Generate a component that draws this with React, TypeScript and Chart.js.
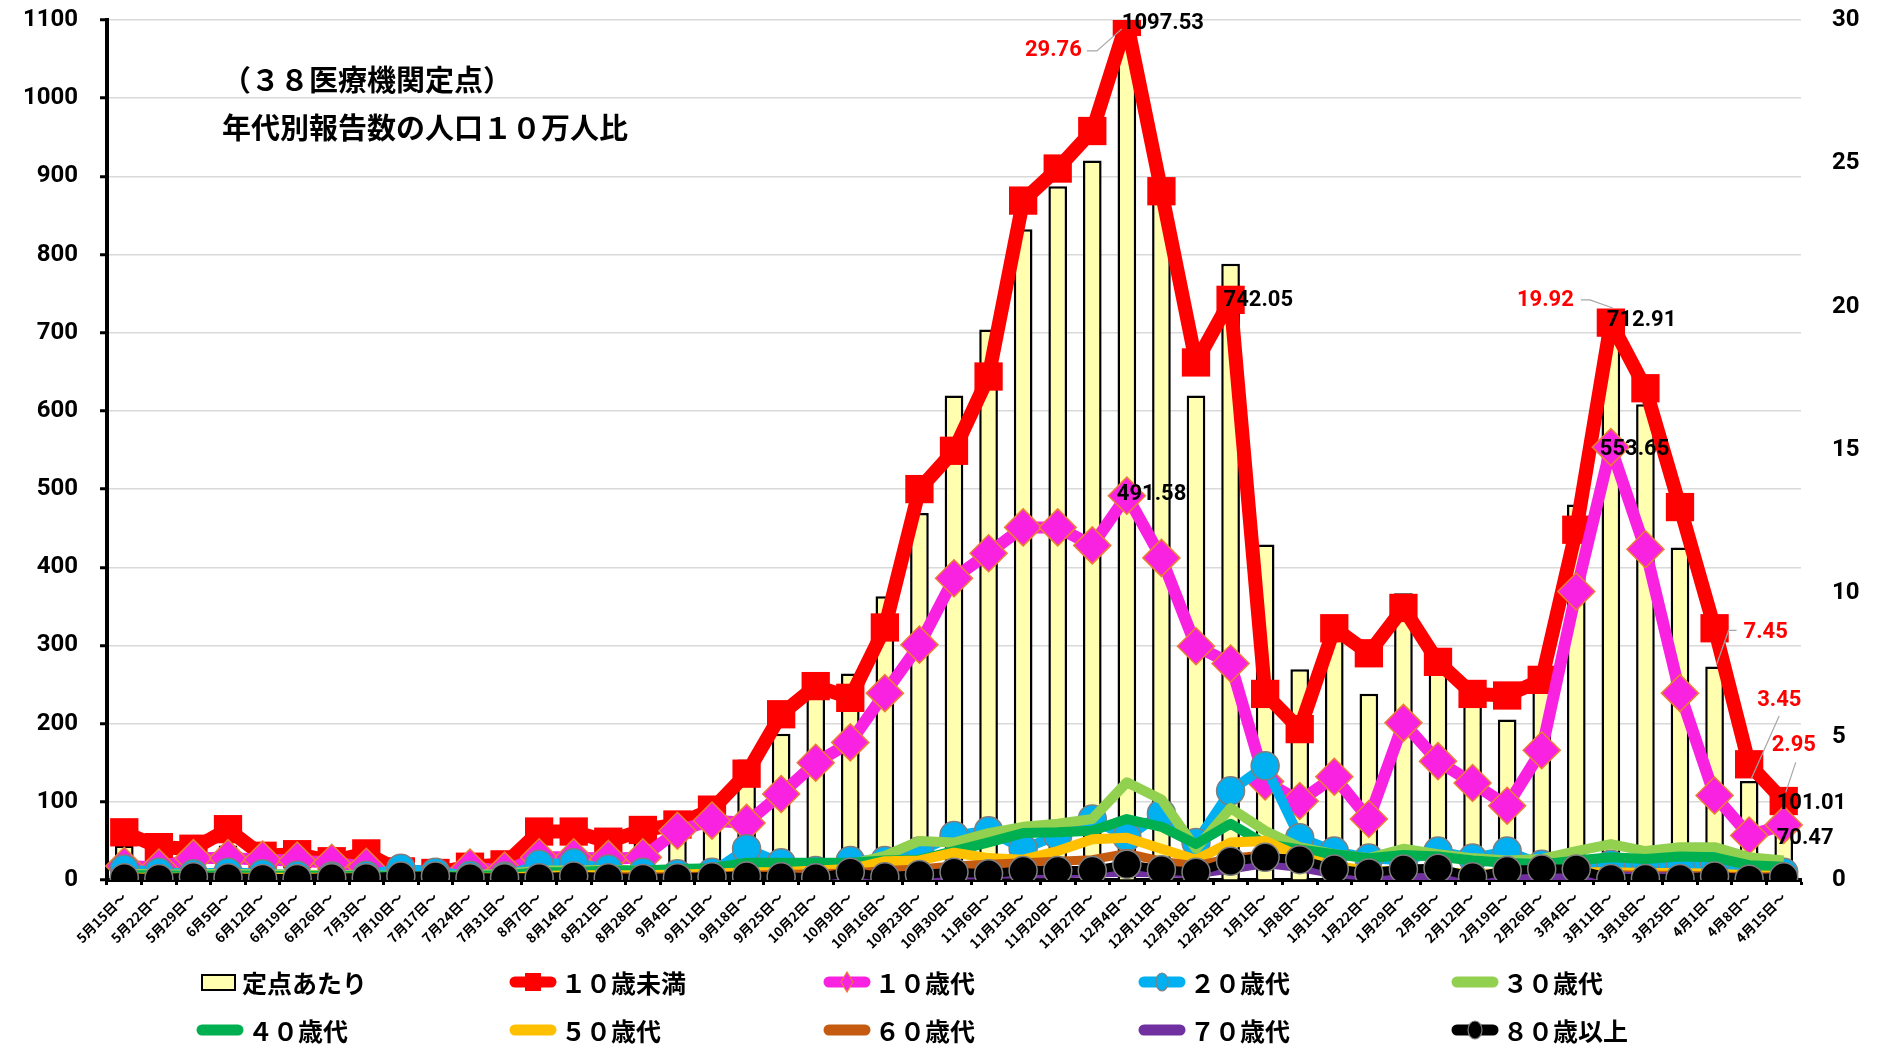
import React, { useEffect, useRef } from 'react';
import { Chart, registerables } from 'chart.js';
Chart.register(...registerables);

const categories = ['5月15日～','5月22日～','5月29日～','6月5日～','6月12日～','6月19日～','6月26日～','7月3日～','7月10日～','7月17日～','7月24日～','7月31日～','8月7日～','8月14日～','8月21日～','8月28日～','9月4日～','9月11日～','9月18日～','9月25日～','10月2日～','10月9日～','10月16日～','10月23日～','10月30日～','11月6日～','11月13日～','11月20日～','11月27日～','12月4日～','12月11日～','12月18日～','12月25日～','1月1日～','1月8日～','1月15日～','1月22日～','1月29日～','2月5日～','2月12日～','2月19日～','2月26日～','3月4日～','3月11日～','3月18日～','3月25日～','4月1日～','4月8日～','4月15日～'];

const perSentinel = [1.2, 0.9, 0.8, 1.2, 0.6, 0.6, 0.4, 0.5, 0.2, 0.2, 0.3, 0.3, 1.0, 1.1, 0.9, 1.9, 2.3, 2.6, 4.2, 5.1, 6.5, 7.2, 9.9, 12.8, 16.9, 19.2, 22.7, 24.2, 25.1, 29.76, 23.8, 16.9, 21.5, 11.7, 7.35, 8.6, 6.5, 10.0, 7.2, 6.1, 5.6, 6.8, 13.1, 19.92, 16.6, 11.6, 7.45, 3.45, 2.95];

const under10 = [61, 42, 40, 65, 31, 33, 24, 34, 11, 9, 17, 20, 62, 62, 49, 64, 71, 90, 136, 212, 248, 233, 323, 500, 549, 644, 869, 910, 958, 1097.53, 881, 662, 742.05, 238, 193, 322, 290, 348, 279, 238, 236, 256, 448, 712.91, 629, 477, 322, 148, 101.01];
const teens = [18, 16, 28, 28, 26, 25, 22, 17, 3, 3, 16, 12, 29, 29, 27, 29, 63, 76, 73, 110, 150, 176, 239, 301, 386, 418, 451, 451, 428, 491.58, 412, 299, 277, 126, 101, 132, 78, 201, 152, 124, 95, 166, 369, 553.65, 423, 239, 108, 57, 70.47];
const twenties = [14, 10, 8, 10, 8, 6, 5, 6, 15, 10, 6, 5, 20, 22, 14, 10, 8, 10, 40, 22, 12, 25, 25, 37, 57, 63, 40, 57, 78, 55, 85, 48, 114, 146, 54, 37, 28, 25, 37, 28, 37, 20, 18, 20, 22, 18, 22, 12, 10];
const thirties = [8, 7, 7, 8, 7, 7, 6, 6, 5, 5, 6, 8, 12, 12, 13, 12, 12, 12, 14, 15, 20, 20, 31, 50, 48, 60, 68, 72, 78, 125, 103, 40, 92, 63, 42, 33, 28, 40, 33, 28, 25, 27, 37, 46, 37, 42, 42, 29, 25];
const forties = [6, 6, 5, 6, 5, 5, 5, 5, 4, 4, 5, 6, 10, 10, 12, 12, 14, 15, 22, 22, 22, 22, 25, 26, 37, 48, 60, 61, 63, 78, 68, 46, 72, 46, 39, 33, 28, 32, 30, 25, 22, 20, 25, 29, 27, 30, 29, 19, 17];
const fifties = [3, 3, 3, 3, 3, 3, 3, 3, 2, 2, 3, 3, 5, 6, 6, 6, 7, 8, 10, 10, 12, 14, 24, 25, 35, 28, 26, 37, 52, 54, 40, 26, 48, 50, 30, 18, 12, 10, 10, 8, 8, 9, 10, 10, 9, 9, 8, 6, 5];
const sixties = [2, 2, 2, 2, 2, 2, 2, 2, 1, 1, 2, 2, 3, 3, 4, 4, 4, 5, 6, 7, 8, 9, 12, 14, 18, 20, 22, 24, 26, 34, 24, 18, 28, 32, 22, 12, 8, 7, 7, 6, 6, 6, 6, 7, 6, 6, 5, 4, 4];
const seventies = [1, 1, 1, 1, 1, 1, 1, 1, 1, 1, 1, 1, 2, 2, 2, 2, 2, 3, 3, 3, 3, 4, 5, 5, 6, 7, 8, 8, 9, 10, 9, 8, 14, 21, 16, 8, 5, 4, 4, 4, 3, 4, 5, 5, 4, 4, 3, 3, 2];
const over80 = [3, 2, 4, 3, 2, 2, 3, 3, 5, 5, 3, 3, 3, 5, 3, 2, 3, 4, 5, 4, 3, 10, 4, 7, 10, 8, 12, 12, 12, 20, 13, 10, 24, 29, 26, 14, 9, 14, 15, 4, 12, 14, 14, 2, 2, 2, 5, 1, 4];

const seriesNames = ['定点あたり', '１０歳未満', '１０歳代', '２０歳代', '３０歳代', '４０歳代', '５０歳代', '６０歳代', '７０歳代', '８０歳以上'];
const seriesColors = ['#FFFFAF', '#FF0000', '#F822E0', '#00B0F0', '#92D050', '#00B050', '#FFC000', '#C55A11', '#7030A0', '#000000'];

const titleLines = ['（３８医療機関定点）', '年代別報告数の人口１０万人比'];

const W = 1879;
const H = 1045;

type LabelSpec = { ds: number; i: number; color: string; align: 'left' | 'right'; dx: number; dy: number; leader?: number[][] };
const labelSpecs: LabelSpec[] = [
  { ds: 0, i: 29, color: '#FF0000', align: 'right', dx: -45, dy: 24, leader: [[-40, 24], [-30, 24], [-5, 2]] },
  { ds: 0, i: 43, color: '#FF0000', align: 'right', dx: -37, dy: -8, leader: [[-30, -9], [-21, -9], [2, -1]] },
  { ds: 0, i: 46, color: '#FF0000', align: 'left', dx: 29, dy: -34, leader: [[2, -2], [14, -36], [22, -36]] },
  { ds: 0, i: 47, color: '#FF0000', align: 'left', dx: 8, dy: -81, leader: [[2, -2], [30, -65]] },
  { ds: 0, i: 48, color: '#FF0000', align: 'left', dx: -12, dy: -50, leader: [[2, -3], [12, -33]] },
  { ds: 1, i: 29, color: '#000', align: 'left', dx: -5, dy: 2 },
  { ds: 1, i: 32, color: '#000', align: 'left', dx: -7, dy: 1 },
  { ds: 1, i: 43, color: '#000', align: 'left', dx: -4, dy: -2 },
  { ds: 1, i: 48, color: '#000', align: 'left', dx: -7, dy: 2 },
  { ds: 2, i: 29, color: '#000', align: 'left', dx: -10, dy: -1 },
  { ds: 2, i: 43, color: '#000', align: 'left', dx: -11, dy: 2 },
  { ds: 2, i: 48, color: '#000', align: 'left', dx: -7, dy: 14 },
];

const labelPlugin = {
  id: 'valueLabels',
  afterDatasetsDraw(chart: any) {
    const ctx = chart.ctx;
    ctx.save();
    ctx.font = 'bold 22px Roboto, sans-serif';
    ctx.textBaseline = 'middle';
    for (const s of labelSpecs) {
      const meta = chart.getDatasetMeta(s.ds);
      const el = meta.data[s.i];
      if (!el) continue;
      const x = el.x;
      const y = el.y;
      const v = chart.data.datasets[s.ds].data[s.i] as number;
      if (s.leader) {
        ctx.strokeStyle = '#A6A6A6';
        ctx.lineWidth = 1.2;
        ctx.beginPath();
        s.leader.forEach((p, k) => {
          if (k === 0) ctx.moveTo(x + p[0], y + p[1]);
          else ctx.lineTo(x + p[0], y + p[1]);
        });
        ctx.stroke();
      }
      ctx.fillStyle = s.color;
      ctx.textAlign = s.align;
      ctx.fillText(v.toFixed(2), x + s.dx, y + s.dy);
    }
    ctx.restore();
  },
};

function LegendSymbol({ idx }: { idx: number }) {
  const color = seriesColors[idx];
  if (idx === 0) {
    return <div style={{ width: 31, height: 13, background: color, border: '2.5px solid #000', marginRight: 6 }} />;
  }
  let marker: any = null;
  if (idx === 1) marker = <rect x={16} y={2} width={16} height={18} fill={color} />;
  if (idx === 2) marker = <polygon points="24,1 30,11 24,21 18,11" fill={color} stroke="#ED7D31" strokeWidth={1.2} />;
  if (idx === 3) marker = <ellipse cx={24} cy={11} rx={6} ry={9} fill={color} stroke="#7F7F7F" strokeWidth={1.2} />;
  if (idx === 9) marker = <ellipse cx={24} cy={11} rx={7} ry={9} fill={color} stroke="#7F7F7F" strokeWidth={1.2} />;
  return (
    <svg width={48} height={22} style={{ marginRight: 4 }}>
      <line x1={6} y1={11} x2={42} y2={11} stroke={color} strokeWidth={11} strokeLinecap="round" />
      {marker}
    </svg>
  );
}

const legendCols = [196, 509, 823, 1138, 1451];
const legendRows = [982, 1030];

export default function App() {
  const ref = useRef<HTMLCanvasElement>(null);
  useEffect(() => {
    document.body.style.margin = '0';
    const canvas = ref.current!;
    const lineData = [under10, teens, twenties, thirties, forties, fifties, sixties, seventies, over80];
    const lineWidths = [14, 12, 10, 10, 10, 10, 9, 9, 9];
    const datasets: any[] = [
      {
        type: 'bar',
        label: seriesNames[0],
        data: perSentinel,
        yAxisID: 'y1',
        backgroundColor: seriesColors[0],
        borderColor: '#000',
        borderWidth: 2.5,
        barPercentage: 0.54,
        categoryPercentage: 1,
        order: 20,
      },
    ];
    lineData.forEach((d, k) => {
      const idx = k + 1;
      const base: any = {
        type: 'line',
        label: seriesNames[idx],
        data: d,
        yAxisID: 'y',
        borderColor: seriesColors[idx],
        backgroundColor: seriesColors[idx],
        borderWidth: lineWidths[k],
        pointRadius: 0,
        tension: 0,
        fill: false,
        order: 10 - idx,
        borderJoinStyle: 'round',
      };
      if (idx === 1) Object.assign(base, { pointStyle: 'rect', pointRadius: 20, pointBorderWidth: 0, pointBorderColor: seriesColors[idx] });
      if (idx === 2) Object.assign(base, { pointStyle: 'rectRot', pointRadius: 18.5, pointBorderWidth: 1.5, pointBorderColor: '#ED7D31' });
      if (idx === 3) Object.assign(base, { pointStyle: 'circle', pointRadius: 14, pointBorderWidth: 1.5, pointBorderColor: '#7F7F7F' });
      if (idx === 9) Object.assign(base, { pointStyle: 'circle', pointRadius: 14, pointBorderWidth: 1.5, pointBorderColor: '#7F7F7F' });
      datasets.push(base);
    });

    const noPad = (s: any, w: number) => { s.width = w; s.paddingTop = 0; s.paddingBottom = 0; };

    const chart = new Chart(canvas, {
      type: 'bar',
      data: { labels: categories, datasets },
      options: {
        responsive: false,
        animation: false,
        devicePixelRatio: 1,
        layout: { padding: { top: 16, left: 0, right: 0, bottom: 0 } },
        plugins: { legend: { display: false }, tooltip: { enabled: false } },
        scales: {
          x: {
            type: 'category',
            offset: true,
            grid: { display: true, drawOnChartArea: false, drawTicks: true, tickLength: 5, tickWidth: 3, tickColor: '#000', offset: true },
            border: { display: true, color: '#000', width: 4 },
            ticks: {
              autoSkip: false,
              minRotation: 45,
              maxRotation: 45,
              padding: 4,
              color: '#000',
              font: { family: "'Noto Sans CJK JP', sans-serif", weight: 'bold', size: 13.5 },
            },
            afterFit: (s: any) => { s.height = 165; },
          },
          y: {
            position: 'left',
            min: 0,
            max: 1100,
            ticks: { stepSize: 100, padding: 22, color: '#000', font: { family: 'Roboto, sans-serif', weight: 'bold', size: 24 }, callback: (v: any) => String(v) },
            grid: { color: '#D9D9D9', lineWidth: 1.5, tickLength: 7, tickColor: '#000', tickWidth: 3 },
            border: { display: true, color: '#000', width: 4 },
            afterFit: (s: any) => noPad(s, 107),
          },
          y1: {
            position: 'right',
            min: 0,
            max: 30,
            ticks: { stepSize: 5, padding: 31, color: '#000', font: { family: 'Roboto, sans-serif', weight: 'bold', size: 24 }, callback: (v: any) => String(v) },
            grid: { drawOnChartArea: false, drawTicks: false },
            border: { display: false },
            afterFit: (s: any) => noPad(s, 78),
          },
        },
      } as any,
      plugins: [labelPlugin],
    });
    return () => chart.destroy();
  }, []);

  return (
    <div style={{ position: 'relative', width: W, height: H, background: '#fff', overflow: 'hidden' }}>
      <canvas ref={ref} width={W} height={H} style={{ position: 'absolute', left: 0, top: 0, width: W, height: H }} />
      {titleLines.map((t, k) => (
        <div key={k} style={{ position: 'absolute', left: 222, top: (k === 0 ? 78 : 126) - 18, height: 36, lineHeight: '36px', fontFamily: "'Noto Sans CJK JP', sans-serif", fontWeight: 700, fontSize: 29, color: '#000', whiteSpace: 'nowrap' }}>{t}</div>
      ))}
      {seriesNames.map((n, idx) => {
        const row = idx < 5 ? 0 : 1;
        const col = idx % 5;
        const left = idx === 0 ? 201 : legendCols[col];
        return (
          <div key={n} style={{ position: 'absolute', left, top: legendRows[row] - 18, height: 36, display: 'flex', alignItems: 'center', fontFamily: "'Noto Sans CJK JP', sans-serif", fontWeight: 700, fontSize: 25, color: '#000', whiteSpace: 'nowrap' }}>
            <LegendSymbol idx={idx} />
            <span>{n}</span>
          </div>
        );
      })}
    </div>
  );
}
